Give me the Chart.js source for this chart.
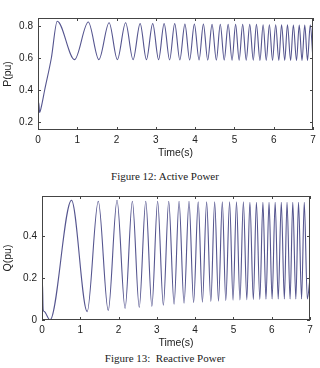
<!DOCTYPE html>
<html>
<head>
<meta charset="utf-8">
<script src="https://cdn.jsdelivr.net/npm/chart.js@4.4.1/dist/chart.umd.min.js"></script>
<style>
  body { margin: 0; background: #fff; width: 320px; height: 368px; overflow: hidden; position: relative; }
  .plot { position: absolute; left: 0; }
  .cap { position: absolute; left: 5px; width: 320px; text-align: center;
         font-family: "Liberation Serif", serif; font-size: 11px; color: #222; }
</style>
</head>
<body>
<div class="plot" style="top:0"><canvas id="activeChart" width="320" height="160"></canvas></div>
<div class="cap" style="top:170px">Figure 12: Active Power</div>
<div class="plot" style="top:185px"><canvas id="reactiveChart" width="320" height="165"></canvas></div>
<div class="cap" style="top:352px">Figure 13:&nbsp; Reactive Power</div>
<script>
// time axis ticks (s)
var timeTicks = [0, 1, 2, 3, 4, 5, 6, 7];

// active power P(pu)
var timeP = [0, 0.02, 0.04, 0.08, 0.17, 0.34, 0.49, 0.93, 1.28, 1.55, 1.81, 2.02, 2.23, 2.42, 2.60, 2.76,
  2.92, 3.07, 3.21, 3.35, 3.48, 3.61, 3.74, 3.86, 3.98, 4.10, 4.21, 4.32, 4.43, 4.54, 4.64, 4.74,
  4.84, 4.94, 5.03, 5.12, 5.21, 5.30, 5.39, 5.48, 5.56, 5.65, 5.73, 5.81, 5.89, 5.97, 6.05, 6.13,
  6.20, 6.28, 6.35, 6.43, 6.50, 6.58, 6.65, 6.72, 6.79, 6.86, 6.93, 7.0];
var valueP = [0.21, 0.32, 0.26, 0.29, 0.40, 0.60, 0.83, 0.59, 0.825, 0.59, 0.82, 0.59, 0.82, 0.59, 0.815, 0.59,
  0.815, 0.59, 0.815, 0.588, 0.815, 0.588, 0.812, 0.588, 0.812, 0.588, 0.812, 0.587, 0.81, 0.587, 0.81, 0.587,
  0.81, 0.586, 0.81, 0.586, 0.81, 0.586, 0.81, 0.586, 0.81, 0.585, 0.808, 0.585, 0.808, 0.585, 0.808, 0.585,
  0.808, 0.585, 0.808, 0.585, 0.806, 0.585, 0.806, 0.585, 0.806, 0.585, 0.806, 0.59];
var ticksP = [0.2, 0.4, 0.6, 0.8];

// reactive power Q(pu)
var timeQ = [0, 0.01, 0.03, 0.06, 0.21, 0.77, 1.18, 1.47, 1.73, 1.96, 2.17, 2.36, 2.54, 2.71, 2.87, 3.02,
  3.17, 3.31, 3.45, 3.58, 3.71, 3.84, 3.96, 4.08, 4.19, 4.30, 4.41, 4.51, 4.61, 4.71, 4.80, 4.90,
  4.99, 5.08, 5.17, 5.26, 5.35, 5.43, 5.52, 5.60, 5.69, 5.77, 5.85, 5.93, 6.01, 6.09, 6.17, 6.25,
  6.33, 6.40, 6.48, 6.55, 6.63, 6.70, 6.78, 6.85, 6.93, 7.0];
var valueQ = [0.03, 0.19, 0.05, 0.04, 0.0, 0.57, 0.04, 0.565, 0.045, 0.57, 0.055, 0.565, 0.06, 0.565, 0.065, 0.565,
  0.07, 0.565, 0.075, 0.565, 0.08, 0.565, 0.082, 0.562, 0.085, 0.562, 0.088, 0.562, 0.09, 0.562, 0.092, 0.562,
  0.094, 0.562, 0.095, 0.562, 0.096, 0.56, 0.097, 0.56, 0.098, 0.56, 0.099, 0.56, 0.1, 0.56, 0.1, 0.56,
  0.1, 0.56, 0.1, 0.56, 0.1, 0.56, 0.1, 0.56, 0.1, 0.2];
var ticksQ = [0, 0.2, 0.4];

// matlab style box with inward ticks
var boxTicks = {
  id: 'boxTicks',
  afterDatasetsDraw: function (chart) {
    var ctx = chart.ctx, a = chart.chartArea, sx = chart.scales.x, sy = chart.scales.y;
    ctx.save();
    ctx.strokeStyle = '#444';
    ctx.lineWidth = 1;
    ctx.strokeRect(a.left + 0.5, a.top + 0.5, a.right - a.left - 1, a.bottom - a.top - 1);
    ctx.beginPath();
    sx.ticks.forEach(function (t) {
      var px = Math.round(sx.getPixelForValue(t.value)) + 0.5;
      ctx.moveTo(px, a.bottom); ctx.lineTo(px, a.bottom - 3);
      ctx.moveTo(px, a.top); ctx.lineTo(px, a.top + 3);
    });
    sy.ticks.forEach(function (t) {
      var py = Math.round(sy.getPixelForValue(t.value)) + 0.5;
      ctx.moveTo(a.left, py); ctx.lineTo(a.left + 3, py);
      ctx.moveTo(a.right, py); ctx.lineTo(a.right - 3, py);
    });
    ctx.stroke();
    ctx.restore();
  }
};

function points(xs, ys) {
  return xs.map(function (x, i) { return { x: x, y: ys[i] }; });
}

function makeChart(id, xs, ys, yTicks, yMin, yMax, yTitle, yWidth, pad) {
  var font = { family: 'Liberation Sans', size: 10 };
  return new Chart(document.getElementById(id), {
    type: 'line',
    data: {
      datasets: [{
        data: points(xs, ys),
        borderColor: '#55558f',
        borderWidth: 1.1,
        pointRadius: 0,
        cubicInterpolationMode: 'monotone'
      }]
    },
    options: {
      responsive: false,
      animation: false,
      layout: { padding: pad },
      plugins: { legend: { display: false }, tooltip: { enabled: false } },
      scales: {
        x: {
          type: 'linear', min: 0, max: 7,
          afterBuildTicks: function (s) { s.ticks = timeTicks.map(function (v) { return { value: v }; }); },
          afterFit: function (s) { s.height = 30; },
          grid: { display: false, drawTicks: false },
          border: { display: false },
          ticks: { color: '#222', font: font, padding: 4, maxRotation: 0 },
          title: { display: true, text: 'Time(s)', color: '#222', font: { family: 'Liberation Sans', size: 10.5 }, padding: { top: 0, bottom: 1 } }
        },
        y: {
          min: yMin, max: yMax,
          afterBuildTicks: function (s) { s.ticks = yTicks.map(function (v) { return { value: v }; }); },
          afterFit: function (s) { s.width = yWidth; },
          grid: { display: false, drawTicks: false },
          border: { display: false },
          ticks: { color: '#222', font: font, padding: 5, callback: function (v) { return String(v); } },
          title: { display: true, text: yTitle, color: '#222', font: { family: 'Liberation Sans', size: 10.5 }, padding: { top: 2, bottom: 0 } }
        }
      }
    },
    plugins: [boxTicks]
  });
}

makeChart('activeChart', timeP, valueP, ticksP, 0.15, 0.85, 'P(pu)', 38, { top: 18, right: 7 });
makeChart('reactiveChart', timeQ, valueQ, ticksQ, 0, 0.59, 'Q(pu)', 42, { top: 10, right: 10 });
</script>
</body>
</html>
